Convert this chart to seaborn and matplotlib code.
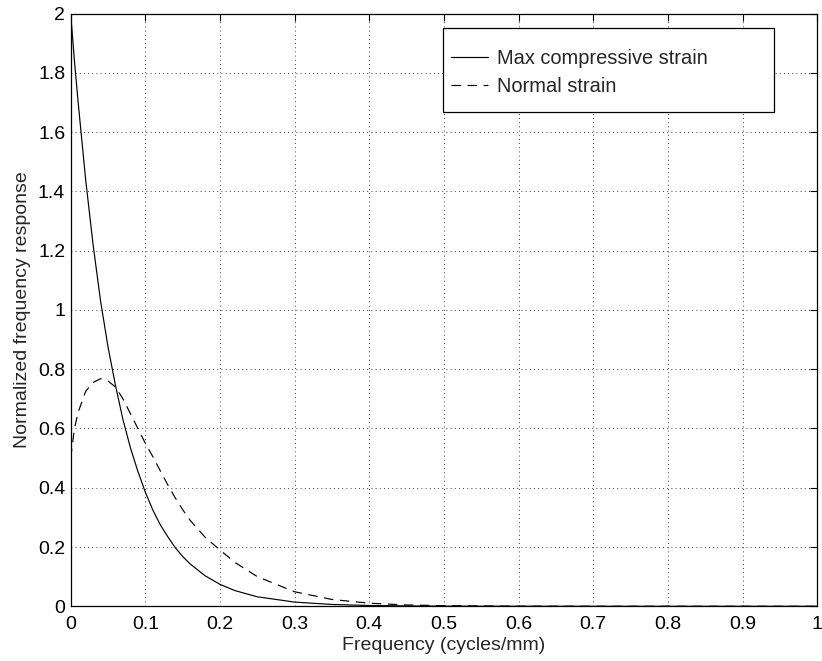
import numpy as np
import pandas as pd
import matplotlib
matplotlib.use("Agg")
import matplotlib.pyplot as plt
import seaborn as sns
from matplotlib.patches import Rectangle
from matplotlib.ticker import FormatStrFormatter, MultipleLocator

sns.set_style("white")
plt.rcParams['font.family'] = ['Liberation Sans', 'DejaVu Sans']

# values
freq = [0, 0.005, 0.01, 0.02, 0.03, 0.04, 0.05, 0.06, 0.07, 0.08, 0.09, 0.1,
        0.11, 0.12, 0.13, 0.14, 0.15, 0.16, 0.18, 0.2, 0.22, 0.25, 0.3, 0.35,
        0.4, 0.45, 0.5, 0.6, 0.7, 0.8, 0.9, 1.0]
max_comp = [2.0, 1.84, 1.70, 1.44, 1.22, 1.03, 0.875, 0.745, 0.63, 0.535, 0.455, 0.385,
            0.325, 0.275, 0.235, 0.198, 0.168, 0.143, 0.103, 0.074, 0.053, 0.032, 0.0142, 0.0062,
            0.0027, 0.0012, 0.0005, 0.0001, 0, 0, 0, 0]
normal = [0.50, 0.60, 0.655, 0.725, 0.755, 0.768, 0.76, 0.74, 0.70, 0.65, 0.60, 0.55,
          0.505, 0.457, 0.41, 0.366, 0.326, 0.29, 0.233, 0.19, 0.148, 0.10, 0.049, 0.023,
          0.0105, 0.0045, 0.002, 0.0004, 0.0001, 0, 0, 0]

df = pd.DataFrame({'freq': freq, 'max': max_comp, 'normal': normal})

fig = plt.figure(figsize=(8.22, 6.61), dpi=100)
ax = fig.add_axes([70.7 / 822, 54.7 / 661, 746.5 / 822, 592.8 / 661])

sns.lineplot(data=df, x='freq', y='max', ax=ax, color='black', linewidth=0.85,
             label='Max compressive strain')
sns.lineplot(data=df, x='freq', y='normal', ax=ax, color='black', linewidth=0.85,
             linestyle=(0, (8, 5.6)), label='Normal strain')

ax.set_xlim(0, 1)
ax.set_ylim(0, 2)
ax.xaxis.set_major_locator(MultipleLocator(0.1))
ax.yaxis.set_major_locator(MultipleLocator(0.2))
ax.xaxis.set_major_formatter(FormatStrFormatter('%g'))
ax.yaxis.set_major_formatter(FormatStrFormatter('%g'))
ax.tick_params(direction='in', length=5, width=0.8, top=True, right=True,
               labelsize=14, colors='black')
ax.tick_params(axis='x', pad=7)
ax.tick_params(axis='y', pad=4)
ax.grid(True, color='black', linestyle=(0, (1, 4)), linewidth=0.6)
for s in ax.spines.values():
    s.set_color('black')
    s.set_linewidth(0.9)

ax.set_xlabel('Frequency (cycles/mm)', fontsize=14, labelpad=3)
ax.set_ylabel('Normalized frequency response', fontsize=14, labelpad=5)

# MATLAB style legend: entries without frame, plus a plain box around them
leg = ax.legend(loc='upper left', bbox_to_anchor=(0.5097, 0.9406), borderaxespad=0,
                borderpad=0, fontsize=14.4, frameon=False, handlelength=1.85,
                labelspacing=0.47, handletextpad=0.42)
ax.add_patch(Rectangle((0.499, 0.834), 0.9417 - 0.499, 0.9755 - 0.834,
                       transform=ax.transAxes, facecolor='white', edgecolor='black',
                       linewidth=0.9, zorder=4))
leg.set_zorder(5)

fig.savefig('out.png', dpi=100)
